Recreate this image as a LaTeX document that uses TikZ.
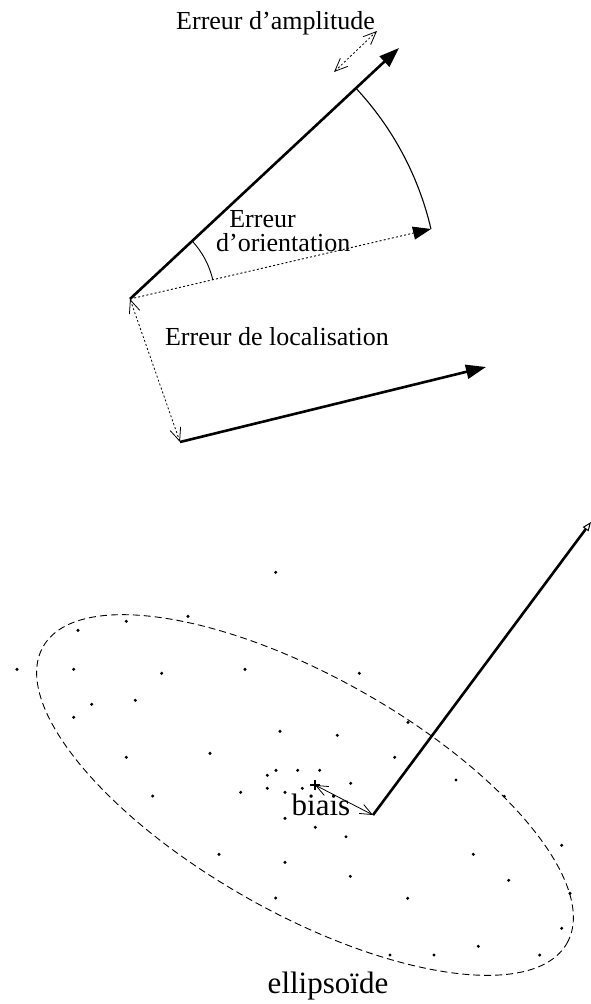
\documentclass[tikz,border=0pt]{standalone}
\usepackage{fontspec}
\setmainfont{Liberation Serif}
\usetikzlibrary{arrows.meta,calc}
\begin{document}
\begin{tikzpicture}[x=1pt,y=-1pt,
  thickline/.style={line width=2.6pt},
  bigtip/.style={-{Triangle[length=20pt,width=14pt]}},
  dotline/.style={line width=0.9pt, dash pattern=on 2pt off 2.2pt},
  barbs/.style={{Straight Barb[length=13pt,width=11pt]}-{Straight Barb[length=13pt,width=11pt]}, line width=0.8pt},
  lbl/.style={font=\fontsize{26}{30}\selectfont, inner sep=0pt, anchor=base},
  biglbl/.style={font=\fontsize{31}{36}\selectfont, inner sep=0pt, anchor=base},
  ell/.style={line width=0.9pt, dash pattern=on 7pt off 4pt},
  scat/.style={fill=black}
]
\useasboundingbox (0,0) rectangle (590,1004);

% ---------- upper part ----------
\coordinate (O1) at (130,299);
\coordinate (T1) at (399,48);
\coordinate (D1) at (431,229);
\coordinate (O2) at (180,442);
\coordinate (T2) at (486,367);
\coordinate (AmA) at (334,72);
\coordinate (AmB) at (377,31);

\draw[thickline, bigtip] (O1) -- (T1);
\draw[dotline, -{Triangle[length=18pt,width=13pt]}] (O1) -- (D1);
\draw[line width=1.1pt] ($(O1)!309pt!(T1)$) arc[start angle=43.02, end angle=13.09, radius=309pt];
\draw[line width=0.9pt] ($(O1)!85pt!(T1)$) arc[start angle=43.02, end angle=13.09, radius=85pt];
\draw[dotline, barbs] (O1) -- (O2);
\draw[thickline, bigtip] (O2) -- (T2);
\draw[dotline, barbs] (AmA) -- (AmB);

\node[lbl] (amp) at (275.5,29) {Erreur d’amplitude};
\node[lbl] (ori1) at (262.5,227.5) {Erreur};
\node[lbl] (ori2) at (283.3,251.5) {d’orientation};
\node[lbl] (loc) at (277,345) {Erreur de localisation};

% ---------- lower part ----------
\begin{scope}[shift={(305,795)}, rotate=-29.5]
  \draw[ell] (0,0) ellipse[x radius=301pt, y radius=118pt];
\end{scope}

\foreach \p in {(275.7,572.3),(188,616.3),(126.3,621.3),(78,630.3),(17,669.3),(73.7,669.3),
  (161.7,673.3),(245,669.3),(91.7,704.3),(135.3,700.3),(73.7,717.3),(280,731.3),(126.3,757.3),
  (210,753.3),(359.3,673.3),(408,722.3),(337.3,735.3),(394.7,757.3),(267.3,775.3),(276,770.3),
  (297.7,770.3),(319.7,770.3),(350.7,783.3),(240.7,792.3),(267.3,788.3),(285,792.3),(302.3,788.3),
  (285,818.3),(315.3,827.3),(346,836.7),(219,854.3),(285,862.3),(456,780),(504.3,796.3),
  (561.7,845.3),(473.3,854.3),(508.7,880.3),(350.3,876.3),(570,893.3),(407.7,898.3),(561.7,928.3),
  (478.3,946.3),(390,955),(434,955),(539.7,955),(152.7,796),(275.7,898)}
  \fill[scat] \p circle[radius=1.7pt];

\coordinate (B) at (373,815);
\coordinate (C) at (315,785);
\coordinate (T3) at (591,522);

\draw[thickline, -{Triangle[open,length=9pt,width=7pt,line width=1pt]}] (B) -- (T3);
\draw[{Straight Barb[length=12pt,width=10pt]}-{Straight Barb[length=12pt,width=10pt]}, line width=0.8pt] (B) -- (C);
\draw[line width=1.6pt] ($(C)+(-5,0)$) -- ($(C)+(5,0)$) ($(C)+(0,-5)$) -- ($(C)+(0,5)$);

\node[biglbl] (biais) at (321,815) {biais};
\node[biglbl] (ellip) at (328,993) {ellipsoïde};
\end{tikzpicture}
\end{document}
